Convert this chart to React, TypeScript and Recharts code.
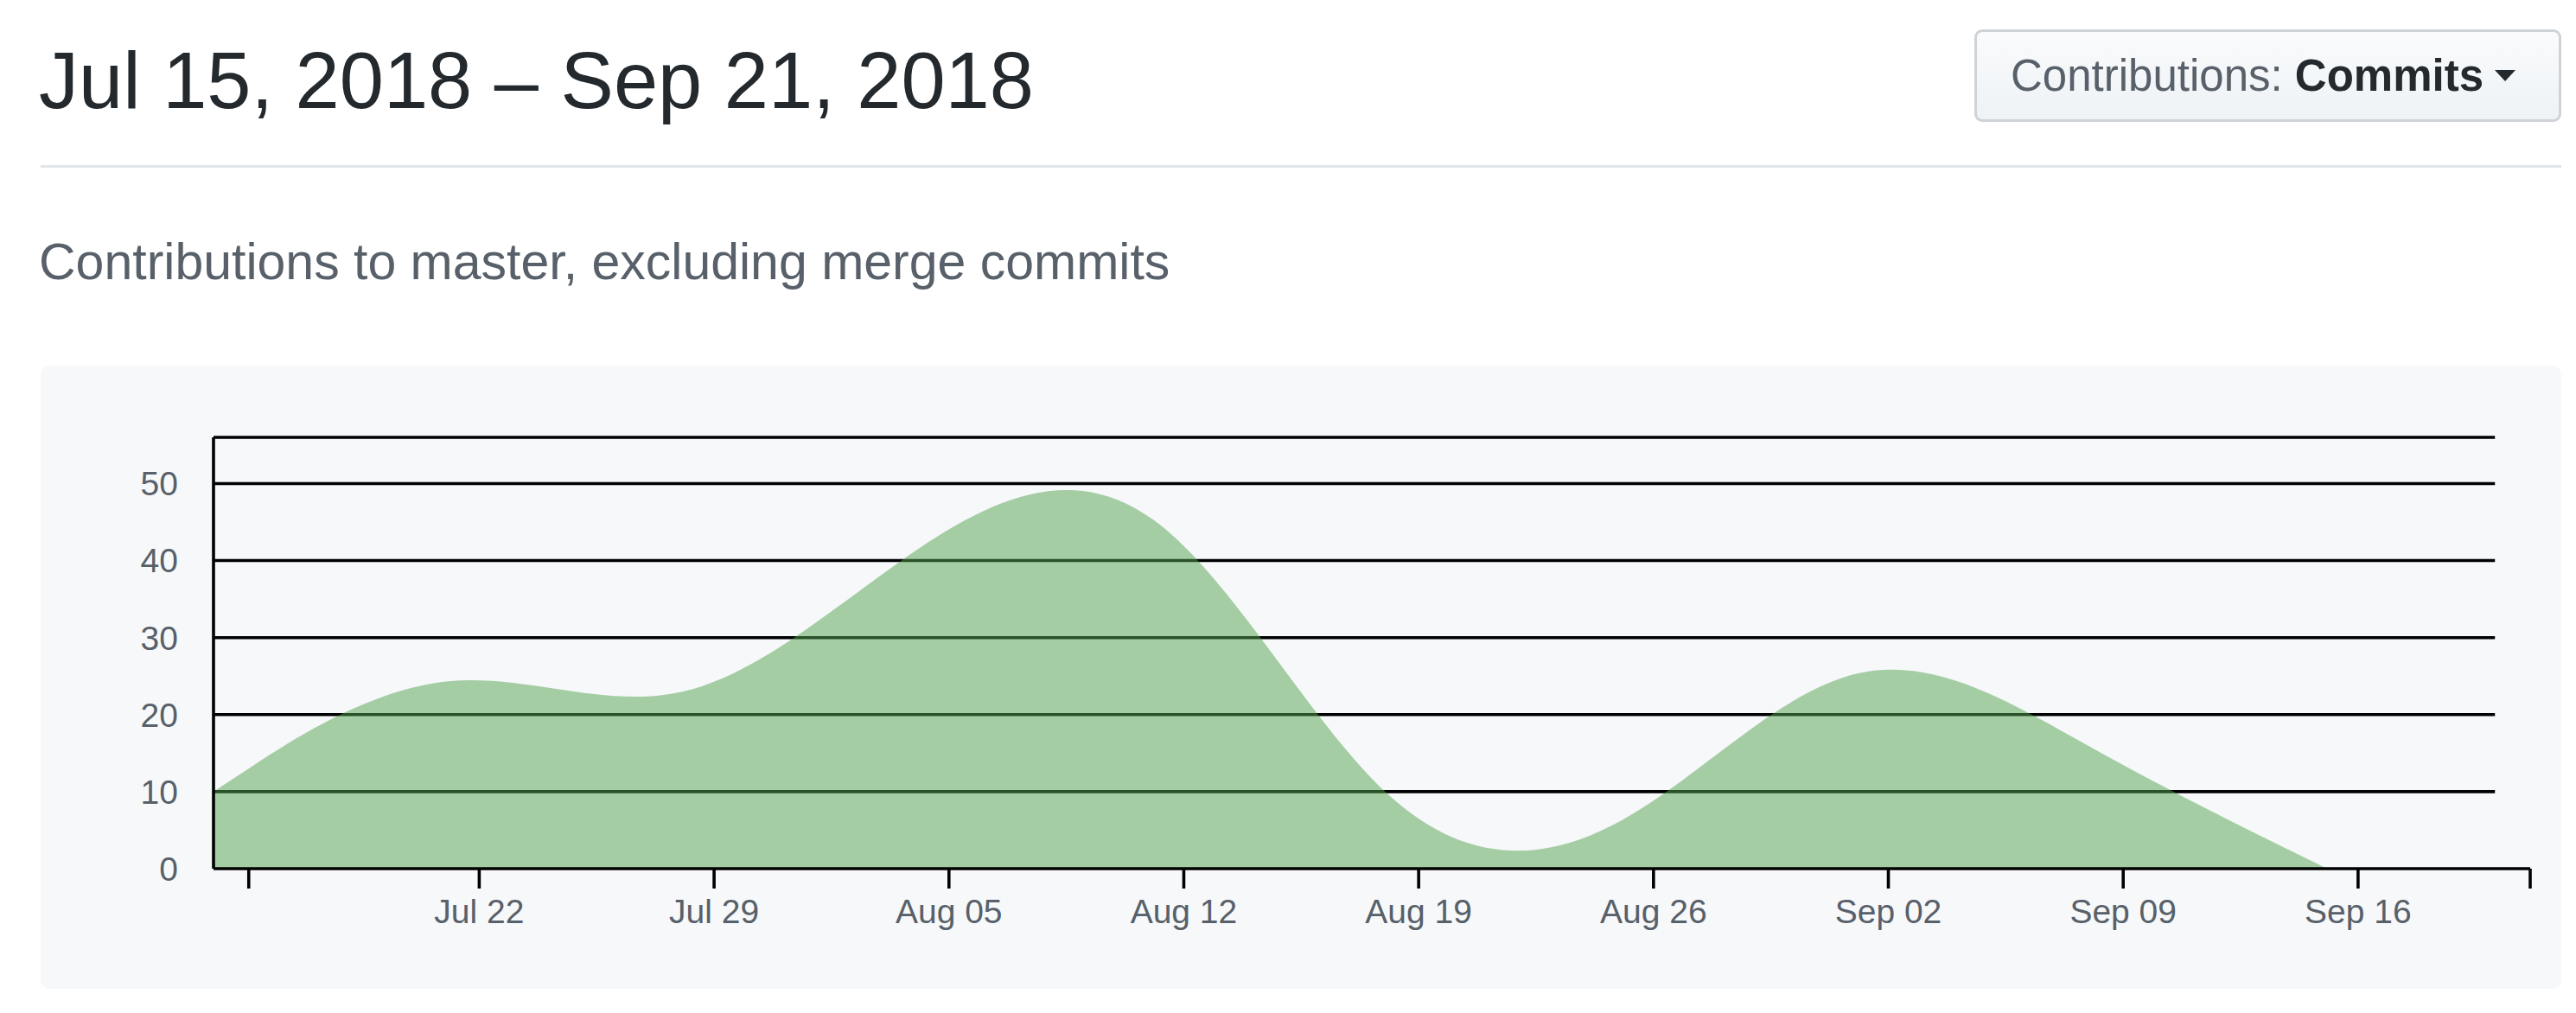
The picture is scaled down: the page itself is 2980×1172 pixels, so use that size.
import { AreaChart, Area, XAxis, YAxis, ReferenceLine } from 'recharts';

// Weekly commit counts (week starting dates)
const weeks = ['Jul 14', 'Jul 21', 'Jul 28', 'Aug 04', 'Aug 11', 'Aug 18', 'Aug 25', 'Sep 01', 'Sep 08', 'Sep 15'];
const commits = [10, 30, 16, 44, 57, 0, 1, 34, 15, 0];

// x is measured in days from the first week
const xTickDays = [1.05, 7.92, 14.92, 21.92, 28.92, 35.92, 42.92, 49.92, 56.92, 63.92, 69.05];
const xTickLabels = ['', 'Jul 22', 'Jul 29', 'Aug 05', 'Aug 12', 'Aug 19', 'Aug 26', 'Sep 02', 'Sep 09', 'Sep 16', ''];
const yTicks = [0, 10, 20, 30, 40, 50];
const gridValues = [10, 20, 30, 40, 50, 56];
const gridEndDay = 68;

const data = weeks.map((week, i) => ({ week, day: i * 7, commits: commits[i] }));

const FONT = '"Helvetica Neue", Helvetica, "Liberation Sans", Arial, sans-serif';
const LINE = 3.6;

export default function App() {
  return (
    <div
      style={{
        position: 'absolute',
        left: 0,
        top: 0,
        width: 2980,
        height: 1172,
        background: '#fff',
        fontFamily: FONT,
        overflow: 'hidden',
      }}
    >
      <div
        style={{
          position: 'absolute',
          left: 45,
          top: 47,
          fontSize: 92,
          lineHeight: '92px',
          color: '#24292e',
          whiteSpace: 'nowrap',
        }}
      >
        Jul 15, 2018 – Sep 21, 2018
      </div>

      <div
        style={{
          position: 'absolute',
          left: 2284,
          top: 34,
          width: 679,
          height: 107,
          boxSizing: 'border-box',
          border: '3px solid #cfd3d7',
          borderRadius: 9,
          background: 'linear-gradient(180deg, #fafbfc 0%, #eff3f6 90%)',
          display: 'flex',
          alignItems: 'center',
          paddingLeft: 39,
          fontSize: 51,
          whiteSpace: 'nowrap',
        }}
      >
        <span style={{ color: '#586069' }}>Contributions:&nbsp;</span>
        <span style={{ color: '#24292e', fontWeight: 700 }}>Commits</span>
        <span
          style={{
            display: 'inline-block',
            marginLeft: 13,
            width: 0,
            height: 0,
            borderLeft: '12px solid transparent',
            borderRight: '12px solid transparent',
            borderTop: '13px solid #24292e',
          }}
        />
      </div>

      <div
        style={{
          position: 'absolute',
          left: 47,
          top: 191,
          width: 2916,
          height: 3,
          background: '#e1e4e8',
        }}
      />

      <div
        style={{
          position: 'absolute',
          left: 45,
          top: 274,
          fontSize: 59,
          lineHeight: '59px',
          color: '#586069',
          whiteSpace: 'nowrap',
        }}
      >
        Contributions to master, excluding merge commits
      </div>

      <div
        style={{
          position: 'absolute',
          left: 47,
          top: 423,
          width: 2916,
          height: 721,
          background: '#f6f8fa',
          borderRadius: 10,
        }}
      >
        <AreaChart
          width={2916}
          height={721}
          data={data}
          margin={{ top: 83, right: 36, bottom: 0, left: 0 }}
        >
          <XAxis
            type="number"
            dataKey="day"
            domain={[0, 69.05]}
            allowDataOverflow
            ticks={xTickDays}
            interval={0}
            tickFormatter={(_v: number, i: number) => xTickLabels[i]}
            height={139}
            tickSize={23}
            tickMargin={12}
            axisLine={{ stroke: '#000', strokeWidth: LINE }}
            tickLine={{ stroke: '#000', strokeWidth: LINE }}
            tick={{ fontSize: 39, fill: '#586069' }}
          />
          <YAxis
            type="number"
            domain={[0, 56]}
            allowDataOverflow
            ticks={yTicks}
            interval={0}
            width={200}
            tickLine={false}
            tickSize={20}
            tickMargin={21}
            axisLine={{ stroke: '#000', strokeWidth: LINE }}
            tick={{ fontSize: 39, fill: '#586069' }}
          />
          {gridValues.map((v) => (
            <ReferenceLine
              key={v}
              segment={[
                { x: 0, y: v },
                { x: gridEndDay, y: v },
              ]}
              stroke="#000"
              strokeWidth={LINE}
              ifOverflow="visible"
              zIndex={-50}
            />
          ))}
          <Area
            type="basis"
            dataKey="commits"
            stroke="none"
            fill="#54a24e"
            fillOpacity={0.5}
            dot={false}
            activeDot={false}
            isAnimationActive={false}
          />
        </AreaChart>
      </div>
    </div>
  );
}
